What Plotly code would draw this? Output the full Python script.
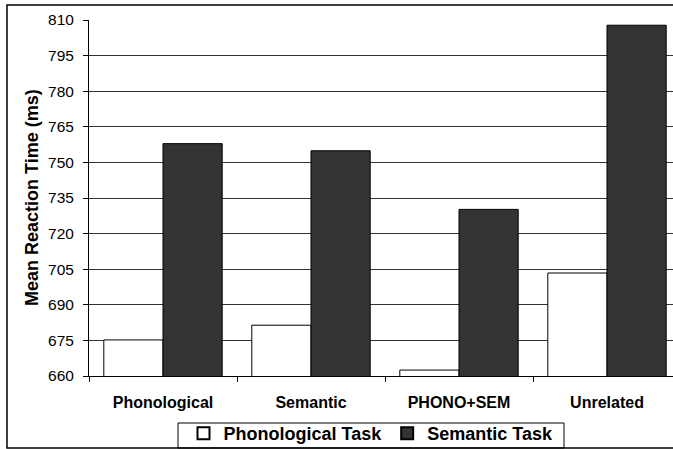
import plotly.graph_objects as go

categories = ["Phonological", "Semantic", "PHONO+SEM", "Unrelated"]
phonological_task = [675.2, 681.4, 662.5, 703.4]
semantic_task = [757.9, 754.9, 730.2, 807.8]
y_ticks = [660, 675, 690, 705, 720, 735, 750, 765, 780, 795, 810]

W, H = 673, 449
ML, MT, MB = 89, 20, 73
PW = W - ML
PH = H - MT - MB
cat_px = 148.0

FONT = "Liberation Sans, Arial, sans-serif"

fig = go.Figure()
fig.add_trace(go.Bar(
    x=categories, y=phonological_task, name="Phonological Task",
    marker=dict(color="white", line=dict(color="black", width=1)),
))
fig.add_trace(go.Bar(
    x=categories, y=semantic_task, name="Semantic Task",
    marker=dict(color="#333333", line=dict(color="black", width=1)),
))

def px_x(p):
    return (p - ML) / PW

def px_y(p):
    return (MT + PH - p) / PH

fig.update_layout(
    width=W, height=H,
    margin=dict(l=ML, r=0, t=MT, b=MB, autoexpand=False),
    paper_bgcolor="white", plot_bgcolor="white",
    barmode="group", bargap=0.2, bargroupgap=0,
    font=dict(family=FONT, color="black"),
    showlegend=True,
    legend=dict(
        orientation="h", x=px_x(371), xanchor="center",
        y=px_y(415), yanchor="top",
        borderwidth=0, bgcolor="rgba(0,0,0,0)",
        font=dict(size=18, family=FONT, weight="bold"),
        itemsizing="constant", tracegroupgap=0,
    ),
    xaxis=dict(
        type="category", range=[-0.5, -0.5 + PW / cat_px],
        showline=True, linecolor="black", linewidth=1,
        ticks="outside", tickson="boundaries", ticklen=5, tickcolor="black",
        tickfont=dict(size=16, family=FONT, weight="bold"),
        ticklabelstandoff=12, showgrid=False, automargin=False,
    ),
    yaxis=dict(
        range=[660, 810], tickvals=y_ticks,
        showline=True, linecolor="black", linewidth=1,
        ticks="outside", ticklen=5, tickcolor="black",
        tickfont=dict(size=15.5, family=FONT),
        ticklabelstandoff=6,
        showgrid=True, gridcolor="#333333", gridwidth=1,
        zeroline=False, automargin=False,
    ),
    annotations=[dict(
        text="Mean Reaction Time (ms)", textangle=-90,
        xref="paper", yref="paper", x=px_x(32), y=0.5,
        xanchor="center", yanchor="middle", showarrow=False,
        font=dict(size=18, family=FONT, weight="bold"),
    )],
    shapes=[
        dict(
            type="rect", xref="paper", yref="paper",
            x0=px_x(7), x1=px_x(690), y0=px_y(448), y1=px_y(5),
            line=dict(color="black", width=1.5), layer="above",
        ),
        dict(
            type="rect", xref="paper", yref="paper",
            x0=px_x(178), x1=px_x(564), y0=px_y(448), y1=px_y(423),
            line=dict(color="black", width=1), layer="above",
        ),
    ],
)

fig.write_html("out.html", config={"displayModeBar": False},
               post_script="document.body.style.margin='0';")
